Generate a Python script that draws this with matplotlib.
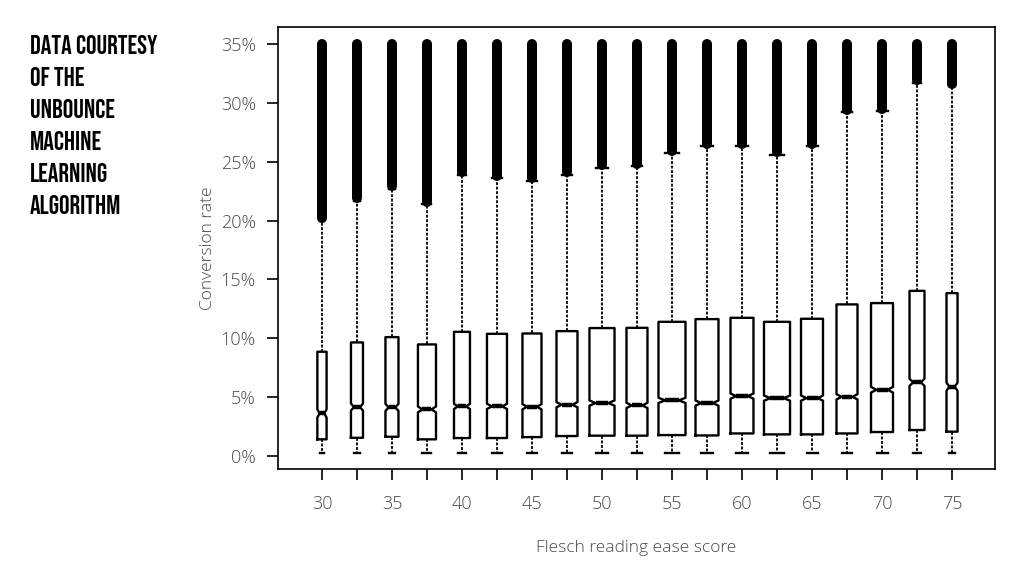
import matplotlib
matplotlib.use("Agg")
import matplotlib.pyplot as plt
from matplotlib import font_manager as fm
from matplotlib.ticker import FixedLocator, FixedFormatter, FuncFormatter

# ---------------- data (conversion rate, %) ----------------
scores = [30, 32.5, 35, 37.5, 40, 42.5, 45, 47.5, 50, 52.5,
          55, 57.5, 60, 62.5, 65, 67.5, 70, 72.5, 75]
q1 = [1.42, 1.55, 1.64, 1.42, 1.53, 1.53, 1.61, 1.70, 1.73, 1.73,
      1.78, 1.75, 1.92, 1.84, 1.84, 1.92, 2.04, 2.21, 2.07]
median = [3.62, 4.16, 4.13, 3.96, 4.22, 4.22, 4.19, 4.36, 4.50, 4.30,
          4.73, 4.50, 5.09, 4.92, 4.92, 5.03, 5.63, 6.26, 5.89]
q3 = [8.86, 9.65, 10.10, 9.48, 10.55, 10.38, 10.41, 10.61, 10.87, 10.89,
      11.40, 11.63, 11.74, 11.40, 11.66, 12.88, 12.99, 14.03, 13.84]
whisker_low = [0.28, 0.28, 0.28, 0.28, 0.28, 0.28, 0.28, 0.28, 0.28, 0.28,
               0.28, 0.28, 0.28, 0.28, 0.28, 0.28, 0.28, 0.28, 0.28]
whisker_high = [20.0, 21.7, 22.7, 21.4, 23.9, 23.6, 23.4, 23.9, 24.5, 24.6,
                25.7, 26.3, 26.3, 25.6, 26.3, 29.2, 29.3, 31.7, 31.4]
outlier_low = [20.2, 21.9, 22.9, 21.6, 24.1, 23.8, 23.6, 24.1, 24.7, 24.8,
               25.9, 26.5, 26.5, 25.8, 26.5, 29.4, 29.5, 31.9, 31.6]
outlier_high = [35.0, 35.0, 35.0, 35.0, 35.0, 35.0, 35.0, 35.0, 35.0, 35.0,
                35.0, 35.0, 35.0, 35.0, 35.0, 35.0, 35.0, 35.0, 35.0]
notch_half = [0.35, 0.30, 0.30, 0.25, 0.22, 0.22, 0.22, 0.22, 0.22, 0.22,
              0.22, 0.22, 0.22, 0.22, 0.22, 0.22, 0.24, 0.30, 0.35]
box_widths = [0.66, 0.86, 0.93, 1.29, 1.14, 1.43, 1.36, 1.50, 1.79, 1.50,
              1.93, 1.64, 1.64, 1.86, 1.57, 1.50, 1.57, 1.07, 0.79]
y_ticks = [0, 5, 10, 15, 20, 25, 30, 35]
x_labelled = [30, 35, 40, 45, 50, 55, 60, 65, 70, 75]
side_note = ["DATA COURTESY", "OF THE", "UNBOUNCE", "MACHINE", "LEARNING", "ALGORITHM"]

# ---------------- fonts ----------------
plt.rcParams['font.family'] = ['Open Sans', 'DejaVu Sans']
installed = {f.name for f in fm.fontManager.ttflist}
cond_font = None
for cand in ['Bebas Neue', 'Oswald', 'Roboto Condensed', 'Open Sans Condensed',
             'Liberation Sans Narrow', 'Arial Narrow', 'DejaVu Sans Condensed']:
    if cand in installed:
        cond_font = cand
        break
if cond_font is None:
    side_kw = dict(family=['DejaVu Sans'], fontstretch='condensed', fontsize=13)
else:
    side_kw = dict(family=[cond_font, 'DejaVu Sans'], fontsize=19)

# ---------------- figure ----------------
fig = plt.figure(figsize=(10.24, 5.76), dpi=100)
ax = fig.add_axes([278 / 1024, 1 - 469 / 576, 717 / 1024, 442 / 576])

stats = []
for i in range(len(scores)):
    stats.append(dict(med=median[i], q1=q1[i], q3=q3[i],
                      whislo=whisker_low[i], whishi=whisker_high[i],
                      cilo=median[i] - notch_half[i], cihi=median[i] + notch_half[i],
                      fliers=[]))

ax.bxp(stats, positions=scores, widths=box_widths, shownotches=True,
       showfliers=False, manage_ticks=False,
       boxprops=dict(color='black', linewidth=1.7),
       whiskerprops=dict(color='black', linewidth=1.3, linestyle=(0, (1.6, 0.9))),
       capprops=dict(color='black', linewidth=1.7),
       medianprops=dict(color='black', linewidth=3.2, solid_capstyle='butt'))

# dense outlier bands (thousands of overlapping open circles)
ax.vlines(scores, outlier_low, outlier_high, colors='black', linewidth=7.2,
          capstyle='round', zorder=5)

ax.set_xlim(26.86, 78.07)
ax.set_ylim(-1.10, 36.44)

for sp in ax.spines.values():
    sp.set_color('black')
    sp.set_linewidth(1.2)

ax.xaxis.set_major_locator(FixedLocator(scores))
ax.xaxis.set_major_formatter(FixedFormatter(
    [("%g" % s) if s in x_labelled else "" for s in scores]))
ax.yaxis.set_major_locator(FixedLocator(y_ticks))
ax.yaxis.set_major_formatter(FuncFormatter(lambda v, p: "%d%%" % v))

ax.tick_params(axis='both', direction='out', length=8, width=1.2, color='black',
               labelcolor='#4a4a4a', labelsize=13)
ax.tick_params(axis='x', pad=11)
ax.tick_params(axis='y', pad=8)
for lab in ax.get_xticklabels() + ax.get_yticklabels():
    lab.set_fontweight('light')

ax.set_xlabel("Flesch reading ease score", fontsize=12.5, color='#4a4a4a', fontweight='light')
ax.set_ylabel("Conversion rate", fontsize=12.5, color='#4a4a4a', fontweight='light')
ax.xaxis.set_label_coords(0.5, -0.160)
ax.yaxis.set_label_coords(-0.086, 0.5)

line_y = [44, 77, 109, 141, 172.5, 204.5]
for txt, yp in zip(side_note, line_y):
    fig.text(30 / 1024, 1 - yp / 576, txt, fontweight='bold', color='black',
             ha='left', va='center', **side_kw)

fig.savefig("out.png", dpi=100, facecolor='white')
